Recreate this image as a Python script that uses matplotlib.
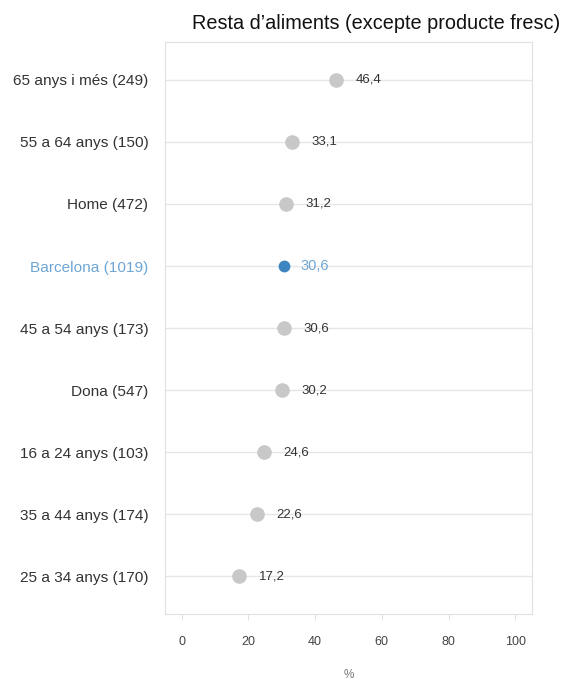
import matplotlib.pyplot as plt

plt.rcParams['font.family'] = ['Liberation Sans', 'DejaVu Sans']

labels = ["65 anys i més (249)", "55 a 64 anys (150)", "Home (472)", "Barcelona (1019)",
          "45 a 54 anys (173)", "Dona (547)", "16 a 24 anys (103)", "35 a 44 anys (174)",
          "25 a 34 anys (170)"]
values = [46.4, 33.1, 31.2, 30.6, 30.6, 30.2, 24.6, 22.6, 17.2]
highlight = "Barcelona (1019)"

fig = plt.figure(figsize=(5.63, 6.85), dpi=100)
ax = fig.add_axes([0.293, 0.1036, 0.652, 0.835])

n = len(labels)
ys = [n - 1 - i for i in range(n)]
for y, lab, v in zip(ys, labels, values):
    ax.axhline(y, color='#e6e6e6', lw=1, zorder=0)
    if lab == highlight:
        ax.plot(v, y, 'o', ms=7.5, color='#3d85c0', zorder=3)
        ax.annotate(f"{v:.1f}".replace('.', ','), (v, y), xytext=(12, 0), textcoords='offset points',
                    va='center', ha='left', fontsize=10.5, color='#6fa5d4')
    else:
        ax.plot(v, y, 'o', ms=9.5, color='#c8c8c8', zorder=3)
        ax.annotate(f"{v:.1f}".replace('.', ','), (v, y), xytext=(14, 0), textcoords='offset points',
                    va='center', ha='left', fontsize=9.5, color='#333333')

ax.set_xlim(-5, 105)
ax.set_ylim(-0.61, n - 1 + 0.61)
ax.set_xticks([0, 20, 40, 60, 80, 100])
ax.set_yticks(ys)
ax.set_yticklabels(labels, fontsize=11.1, color='#333333')
for t in ax.get_yticklabels():
    if t.get_text() == highlight:
        t.set_color('#6fa5d4')
ax.tick_params(axis='y', length=0, pad=12)
ax.tick_params(axis='x', length=4, color='#e0e0e0', labelsize=9, labelcolor='#444444', pad=12,
               direction='out')
for s in ax.spines.values():
    s.set_color('#e0e0e0')
ax.set_xlabel('%', fontsize=8.5, color='#777777', labelpad=15)
fig.text(0.995, 0.965, "Resta d\u2019aliments (excepte producte fresc)", ha='right', va='center',
         fontsize=14.3, color='#111111')

fig.savefig('out.png', dpi=100)
